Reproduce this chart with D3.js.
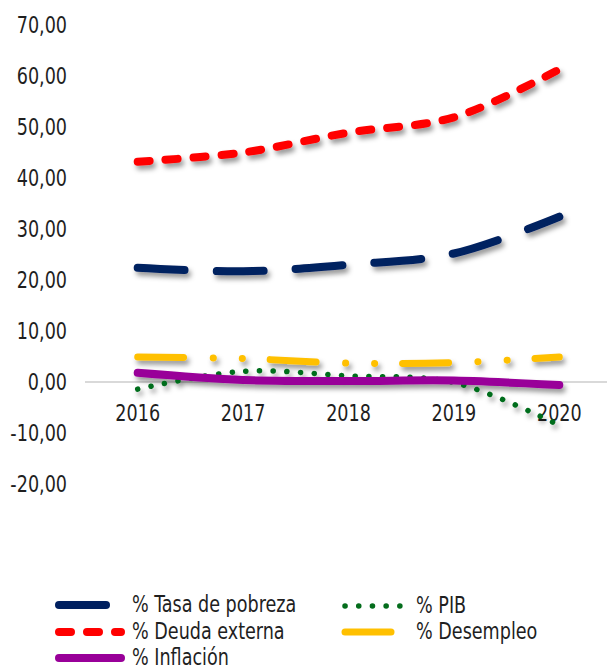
<!DOCTYPE html>
<html>
<head>
<meta charset="utf-8">
<script src="https://cdn.jsdelivr.net/npm/d3@7"></script>
<style>
  html, body { margin: 0; padding: 0; background: #fff; overflow: hidden; }
  svg { display: block; }
  svg text { font-family: "DejaVu Sans Condensed", "DejaVu Sans", sans-serif; fill: #1f1f1f; }
</style>
</head>
<body>
<svg id="chart"></svg>
<script>
// Data
const years = ["2016", "2017", "2018", "2019", "2020"]
const pobreza = [22.4, 21.7, 23.0, 25.2, 32.4]
const deuda = [43.2, 45.0, 48.9, 51.9, 61.3]
const pib = [-1.4, 2.1, 1.2, -0.1, -8.5]
const desempleo = [4.9, 4.6, 3.7, 3.8, 4.9]
const inflacion = [1.8, 0.4, 0.2, 0.3, -0.6]
const yTicks = [-20, -10, 0, 10, 20, 30, 40, 50, 60, 70]

// Series styles (legend label, colour, dash)
var series = [
    { name: "% Tasa de pobreza", values: pobreza, color: "#002060", width: 8, dash: "47 32" },
    { name: "% Deuda externa", values: deuda, color: "#ff0000", width: 8, dash: "12 16" },
    { name: "% PIB", values: pib, color: "#046d1c", width: 5.5, dash: "0.1 13.6" },
    { name: "% Desempleo", values: desempleo, color: "#ffc000", width: 7, dash: "46 29.5 0.1 28.9 0.1 27.9" },
    { name: "% Inflación", values: inflacion, color: "#990099", width: 8, dash: null }
]

var svgWidth = 607, svgHeight = 671
var fontSize = 23, squeeze = 0.85

var svg = d3.select("#chart")
    .attr("width", svgWidth)
    .attr("height", svgHeight)

// soft drop shadow like the original
var filter = svg.append("defs").append("filter")
    .attr("id", "shadow")
    .attr("x", "-10%").attr("y", "-50%")
    .attr("width", "130%").attr("height", "250%")
filter.append("feDropShadow")
    .attr("dx", 2.5).attr("dy", 4)
    .attr("stdDeviation", 2.4)
    .attr("flood-color", "#000")
    .attr("flood-opacity", 0.4)

var x = d3.scaleBand()
    .domain(years)
    .range([85, 612])
    .padding(0)

var y = d3.scaleLinear()
    .domain([-20, 70])
    .range([484, 25])

var loc = d3.formatLocale({ decimal: ",", thousands: ".", grouping: [3], currency: ["", ""], minus: "-" })
var fmt = loc.format(".2f")

function squeezed(sel, tx, ty) {
    return sel.attr("transform", "translate(" + tx + "," + ty + ") scale(" + squeeze + ",1)")
}

// y labels (no axis line)
var yAxis = svg.append("g")
yTicks.forEach((t) => {
    squeezed(yAxis.append("text"), 67, y(t) + 8)
        .attr("text-anchor", "end")
        .attr("font-size", fontSize)
        .text(fmt(t))
})

// zero line
svg.append("line")
    .attr("x1", x.range()[0]).attr("x2", 607)
    .attr("y1", y(0)).attr("y2", y(0))
    .attr("stroke", "#d9d9d9")
    .attr("stroke-width", 2)

// x labels
var xAxis = svg.append("g")
years.forEach((yr) => {
    squeezed(xAxis.append("text"), x(yr) + x.bandwidth() / 2, 421)
        .attr("text-anchor", "middle")
        .attr("font-size", fontSize)
        .text(yr)
})

var line = d3.line()
    .x((d, i) => x(years[i]) + x.bandwidth() / 2)
    .y((d) => y(d))
    .curve(d3.curveCatmullRom)

var lines = svg.append("g").attr("filter", "url(#shadow)")
series.forEach((s) => {
    lines.append("path")
        .datum(s.values)
        .attr("d", line)
        .attr("fill", "none")
        .attr("stroke", s.color)
        .attr("stroke-width", s.width)
        .attr("stroke-linecap", "round")
        .attr("stroke-linejoin", "round")
        .attr("stroke-dasharray", s.dash)
})

// Legend
var legendPos = [
    { x0: 59, x1: 121, tx: 132, ty: 612 },
    { x0: 59, x1: 121, tx: 132, ty: 639 },
    { x0: 345, x1: 409, tx: 416, ty: 613 },
    { x0: 345, x1: 409, tx: 416, ty: 639 },
    { x0: 59, x1: 121, tx: 132, ty: 665 }
]
var legend = svg.append("g")
series.forEach((s, i) => {
    var p = legendPos[i]
    legend.append("line")
        .attr("x1", p.x0).attr("x2", p.x1)
        .attr("y1", p.ty - 7).attr("y2", p.ty - 7)
        .attr("stroke", s.color)
        .attr("stroke-width", s.width)
        .attr("stroke-linecap", "round")
        .attr("stroke-dasharray", s.dash)
    squeezed(legend.append("text"), p.tx, p.ty)
        .attr("font-size", fontSize)
        .text(s.name)
})
</script>
</body>
</html>
